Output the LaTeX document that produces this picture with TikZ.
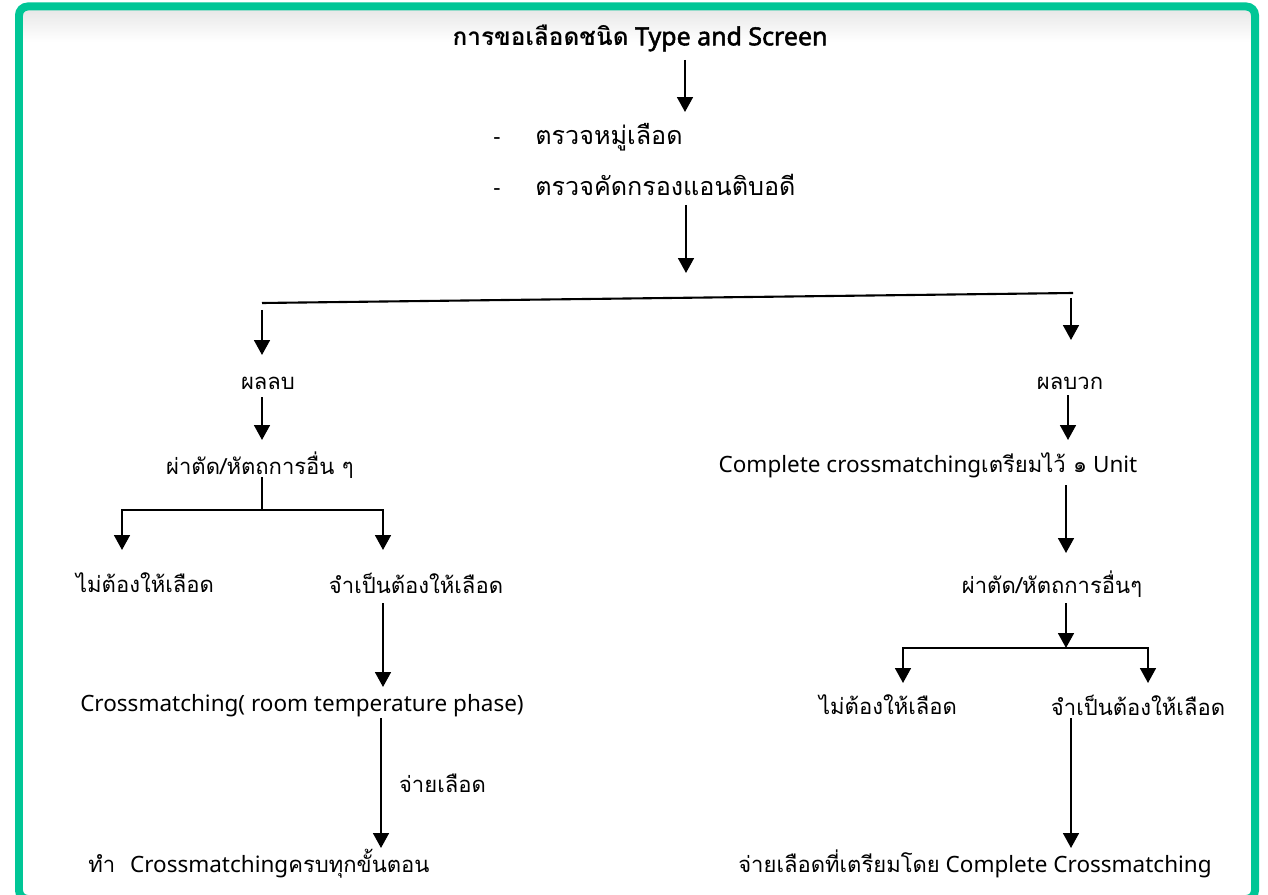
\documentclass[tikz,border=0pt]{standalone}
\usepackage{fontspec}
\setmainfont{Noto Sans}[AutoFakeBold=2]
\newfontfamily\thaifont[Script=Thai,Scale=0.98]{Loma}
\usetikzlibrary{arrows.meta}
\definecolor{frame}{RGB}{0,198,150}
\newcommand\thaitxt[1]{{\thaifont #1}}

\begin{document}
\begin{tikzpicture}[x=0.02cm, y=-0.02cm,
  lbl/.style={inner sep=0pt, font=\fontsize{12.8}{15}\selectfont},
  big/.style={inner sep=0pt, font=\fontsize{14.6}{17}\selectfont},
  arr/.style={line width=1.2pt, -{Triangle[width=9pt,length=8.5pt]}},
  ln/.style={line width=1.2pt}]
\useasboundingbox (0,0) rectangle (1268,895);
% frame
\shade[top color=black!9, bottom color=white] (23,10) rectangle (1251,42);
\draw[line width=0.16cm, draw=frame, rounded corners=5pt] (19,6.5) rectangle (1255,899);

% top part
\node[inner sep=0pt, font=\fontsize{14.2}{17}\selectfont\bfseries] (title) at (640,38)
  {\thaitxt{การขอเลือดชนิด} Type and Screen};
\node[big, anchor=west] (chkA) at (493,137) {\makebox[0.84cm][l]{\fontsize{12.8}{15}\selectfont -}\thaitxt{ตรวจหมู่เลือด}};
\node[big, anchor=west] (chkB) at (493,185) {\makebox[0.84cm][l]{\fontsize{12.8}{15}\selectfont -}\thaitxt{ตรวจคัดกรองแอนติบอดี}};
\coordinate (t1) at (685,60);
\coordinate (t2) at (685,112);
\coordinate (t3) at (686,205);
\coordinate (t4) at (686,273);
\draw[arr] (t1) -- (t2);
\draw[arr] (t3) -- (t4);

% split
\coordinate (sl) at (262,303);
\coordinate (sr) at (1073,293);
\draw[ln] (sl) -- (sr);
\node[lbl] (neg) at (268,383) {\thaitxt{ผลลบ}};
\node[lbl] (pos) at (1070,383) {\thaitxt{ผลบวก}};
\draw[arr] (262,310) -- (262,355);
\draw[arr] (1071,298) -- (1071,340);

% negative branch
\node[lbl] (opL) at (260,465) {\thaitxt{ผ่าตัด/หัตถการอื่น ๆ}};
\draw[arr] (262,397) -- (262,440);
\coordinate (jL) at (262,510);
\draw[ln] (262,477) -- (jL);
\draw[arr] (jL) -| (122,550);
\draw[arr] (jL) -| (383,550);
\node[lbl] (noL) at (145,583) {\thaitxt{ไม่ต้องให้เลือด}};
\node[lbl] (yesL) at (416,583) {\thaitxt{จำเป็นต้องให้เลือด}};
\node[lbl] (rt) at (302,706) {Crossmatching( room temperature phase)};
\draw[arr] (383,603) -- (383,687);
\draw[arr] (381,718) -- (381,848)
  node[lbl, pos=0.5, anchor=west, xshift=17*0.02cm] (give) {\thaitxt{จ่ายเลือด}};
\node[lbl, anchor=west] (fullL) at (88,864) {\thaitxt{ทำ}\hspace{0.4em} Crossmatching\thaitxt{ครบทุกขั้นตอน}};

% positive branch
\node[lbl] (cc) at (928,465) {Complete crossmatching\thaitxt{เตรียมไว้ ๑} Unit};
\draw[arr] (1068,395) -- (1068,440);
\node[lbl] (opR) at (1052,584) {\thaitxt{ผ่าตัด/หัตถการอื่นๆ}};
\draw[arr] (1066,485) -- (1066,553);
\coordinate (jR) at (1066,648);
\draw[arr] (1066,603) -- (jR);
\draw[arr] (jR) -| (903,683);
\draw[arr] (jR) -| (1148,683);
\node[lbl] (noR) at (888,705) {\thaitxt{ไม่ต้องให้เลือด}};
\node[lbl] (yesR) at (1138,705) {\thaitxt{จำเป็นต้องให้เลือด}};
\draw[arr] (1071,718) -- (1071,848);
\node[lbl] (giveR) at (975,864) {\thaitxt{จ่ายเลือดที่เตรียมโดย} Complete Crossmatching};
\end{tikzpicture}
\end{document}
